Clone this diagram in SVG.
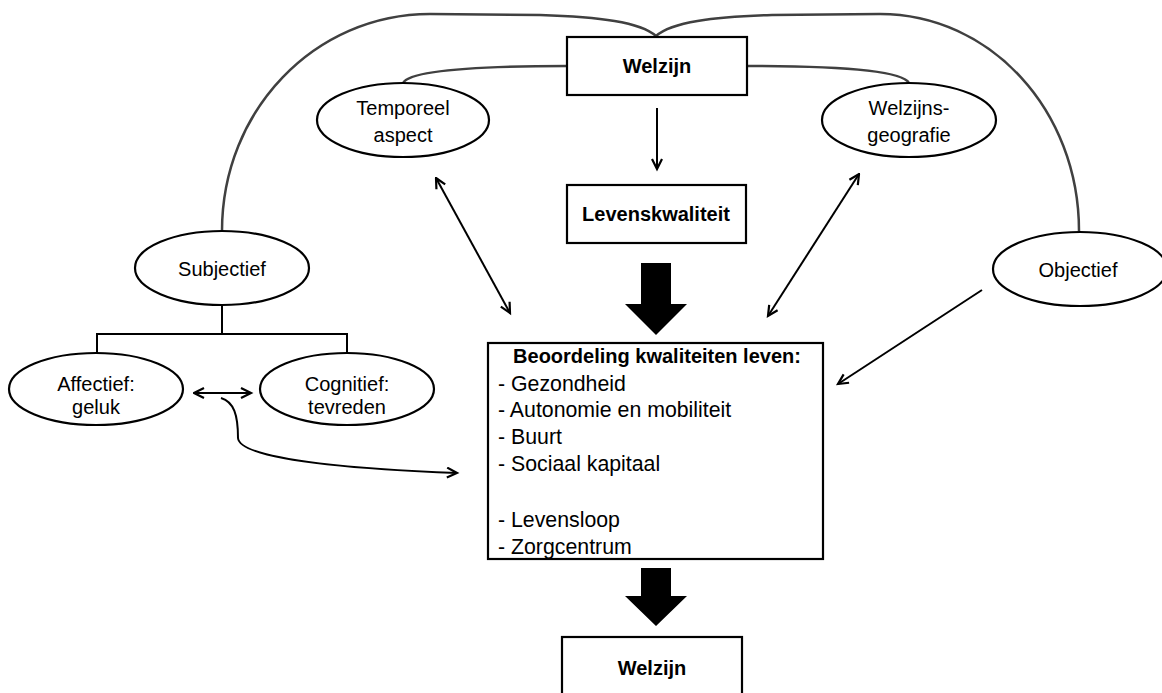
<svg xmlns="http://www.w3.org/2000/svg" width="1162" height="693" viewBox="0 0 1162 693">
<style>
.bg{fill:#fff}
.box{fill:#fff;stroke:#000;stroke-width:2.2}
.ell{fill:#fff;stroke:#000;stroke-width:2.2}
.t{font-family:"Liberation Sans",Arial,sans-serif;font-size:20px;fill:#000;text-anchor:middle}
.b{font-weight:bold}
.l{font-family:"Liberation Sans",Arial,sans-serif;font-size:21.3px;fill:#000}
.gray{fill:none;stroke:#404040;stroke-width:2.5}
.ln{fill:none;stroke:#000;stroke-width:2}
.thick{fill:#000;stroke:none}
</style>
<defs>
<marker id="ah" markerWidth="14" markerHeight="14" refX="11" refY="6" orient="auto" markerUnits="userSpaceOnUse">
<path d="M1,1 L11,6 L1,11" fill="none" stroke="#000" stroke-width="2.2"/>
</marker>
<marker id="as" markerWidth="14" markerHeight="14" refX="1" refY="6" orient="auto" markerUnits="userSpaceOnUse">
<path d="M11,1 L1,6 L11,11" fill="none" stroke="#000" stroke-width="2.2"/>
</marker>
</defs>
<rect class="bg" x="0" y="0" width="1162" height="693"/>
<g id="connectors">
<path class="gray" d="M222,231 C222,110 315,14 430,14 L540,15 C600,17 640,22 656,36"/>
<path class="gray" d="M656,36 C672,22 712,17 772,15 L880,14 C990,14 1079,110 1079,231"/>
<path class="gray" d="M567,66 C480,66 410,70 403,83"/>
<path class="gray" d="M747,66 C830,66 902,70 909,83"/>
<line class="ln" x1="657" y1="108" x2="657" y2="169" marker-end="url(#ah)"/>
<line class="ln" x1="436" y1="178" x2="510" y2="313" marker-start="url(#as)" marker-end="url(#ah)"/>
<line class="ln" x1="859" y1="174" x2="768" y2="316" marker-start="url(#as)" marker-end="url(#ah)"/>
<line class="ln" x1="982" y1="290" x2="838" y2="384" marker-end="url(#ah)"/>
<line class="ln" x1="194" y1="393" x2="251" y2="393" marker-start="url(#as)" marker-end="url(#ah)"/>
<path class="ln" d="M221,398 C234,402 238,415 238,438 C240,462 380,470 457,473" marker-end="url(#ah)"/>
<path class="ln" d="M222,305 V334 M97,353 V334 H347 V353"/>
<path class="thick" d="M641,263 H671 V304 H687 L656,335 L625,304 H641 Z"/>
<path class="thick" d="M641,568 H671 V596 H687 L656,626 L625,596 H641 Z"/>
</g>
<g id="welzijn-top">
<rect class="box" x="567" y="37" width="180" height="58"/>
<text class="t b" x="657" y="73">Welzijn</text>
</g>
<g id="temporeel">
<ellipse class="ell" cx="403" cy="120" rx="86" ry="37"/>
<text class="t" x="403" y="115">Temporeel</text>
<text class="t" x="403" y="142">aspect</text>
</g>
<g id="welzijnsgeografie">
<ellipse class="ell" cx="909" cy="120" rx="87" ry="37"/>
<text class="t" x="909" y="115">Welzijns-</text>
<text class="t" x="909" y="142">geografie</text>
</g>
<g id="levenskwaliteit">
<rect class="box" x="567" y="185" width="179" height="58"/>
<text class="t b" x="656" y="221">Levenskwaliteit</text>
</g>
<g id="subjectief">
<ellipse class="ell" cx="222" cy="268" rx="87" ry="37"/>
<text class="t" x="222" y="276">Subjectief</text>
</g>
<g id="objectief">
<ellipse class="ell" cx="1080" cy="269" rx="87" ry="37"/>
<text class="t" x="1078" y="277">Objectief</text>
</g>
<g id="affectief">
<ellipse class="ell" cx="96" cy="389" rx="87" ry="36"/>
<text class="t" x="96" y="391">Affectief:</text>
<text class="t" x="96" y="414">geluk</text>
</g>
<g id="cognitief">
<ellipse class="ell" cx="347" cy="389" rx="87" ry="36"/>
<text class="t" x="347" y="391">Cognitief:</text>
<text class="t" x="347" y="414">tevreden</text>
</g>
<g id="beoordeling">
<rect class="box" x="488" y="343" width="335" height="216"/>
<text class="t b" x="657" y="363">Beoordeling kwaliteiten leven:</text>
<text class="l" x="498" y="391">- Gezondheid</text>
<text class="l" x="498" y="417">- Autonomie en mobiliteit</text>
<text class="l" x="498" y="444">- Buurt</text>
<text class="l" x="498" y="471">- Sociaal kapitaal</text>
<text class="l" x="498" y="527">- Levensloop</text>
<text class="l" x="498" y="554">- Zorgcentrum</text>
</g>
<g id="welzijn-bottom">
<rect class="box" x="562" y="637" width="180" height="70"/>
<text class="t b" x="652" y="675">Welzijn</text>
</g>
</svg>
